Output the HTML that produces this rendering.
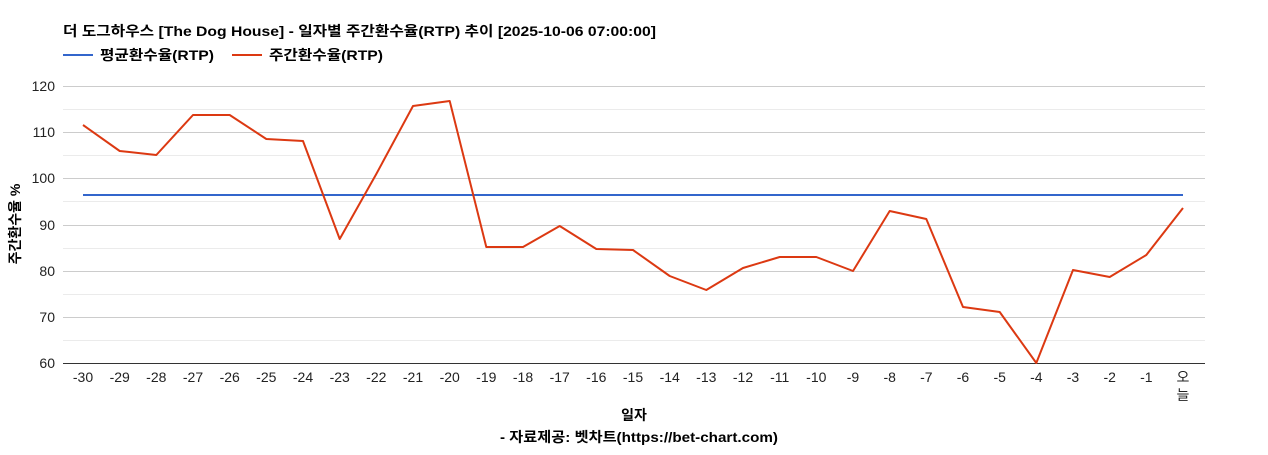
<!DOCTYPE html>
<html><head><meta charset="utf-8"><style>
body{margin:0;background:#fff;width:1268px;height:450px;overflow:hidden;font-family:"Liberation Sans","Noto Sans CJK KR",sans-serif}
</style></head><body>
<svg width="1268" height="450" xmlns="http://www.w3.org/2000/svg" font-family="Liberation Sans, Noto Sans CJK KR, sans-serif">
<text x="63" y="36" font-size="14" font-weight="bold" fill="#000" textLength="593" lengthAdjust="spacingAndGlyphs">더 도그하우스 [The Dog House] - 일자별 주간환수율(RTP) 추이 [2025-10-06 07:00:00]</text>
<line x1="63" y1="55" x2="93" y2="55" stroke="#3366cc" stroke-width="2"/>
<text x="100" y="60" font-size="14" font-weight="bold" textLength="114" lengthAdjust="spacingAndGlyphs">평균환수율(RTP)</text>
<line x1="232" y1="55" x2="262" y2="55" stroke="#dc3912" stroke-width="2"/>
<text x="269" y="60" font-size="14" font-weight="bold" textLength="114" lengthAdjust="spacingAndGlyphs">주간환수율(RTP)</text>
<g stroke="#ebebeb" stroke-width="1">
<line x1="63" y1="109.5" x2="1205" y2="109.5"/><line x1="63" y1="155.5" x2="1205" y2="155.5"/><line x1="63" y1="201.5" x2="1205" y2="201.5"/><line x1="63" y1="248.5" x2="1205" y2="248.5"/><line x1="63" y1="294.5" x2="1205" y2="294.5"/><line x1="63" y1="340.5" x2="1205" y2="340.5"/>
</g>
<g stroke="#cccccc" stroke-width="1">
<line x1="63" y1="86.5" x2="1205" y2="86.5"/><line x1="63" y1="132.5" x2="1205" y2="132.5"/><line x1="63" y1="178.5" x2="1205" y2="178.5"/><line x1="63" y1="225.5" x2="1205" y2="225.5"/><line x1="63" y1="271.5" x2="1205" y2="271.5"/><line x1="63" y1="317.5" x2="1205" y2="317.5"/>
</g>
<line x1="63" y1="363.5" x2="1205" y2="363.5" stroke="#333" stroke-width="1"/>
<g font-size="14" text-anchor="end" fill="#222">
<text x="55" y="91">120</text><text x="55" y="137">110</text><text x="55" y="183">100</text><text x="55" y="230">90</text><text x="55" y="276">80</text><text x="55" y="322">70</text><text x="55" y="368">60</text>
</g>
<text transform="translate(20,224) rotate(-90)" font-size="14" font-weight="bold" text-anchor="middle">주간환수율 %</text>
<g font-size="14" text-anchor="middle" fill="#222" id="xl"></g>
<line x1="83" y1="195" x2="1183" y2="195" stroke="#3366cc" stroke-width="2"/>
<polyline fill="none" stroke="#dc3912" stroke-width="2" stroke-linejoin="round" id="rl" points=""/>
<text x="634" y="420" font-size="14" font-weight="bold" text-anchor="middle">일자</text>
<text x="500" y="442" font-size="14" font-weight="bold" textLength="278" lengthAdjust="spacingAndGlyphs">- 자료제공: 벳차트(https://bet-chart.com)</text>
</svg>
<script>
var ys=[125,151,155,115,115,139,141,239,174,106,101,247,247,226,249,250,276,290,268,257,257,271,211,219,307,312,363,270,277,255,208];
var pts=[],g=document.getElementById('xl'),h='';
for(var i=0;i<31;i++){var x=83+i*36.667;pts.push(x.toFixed(1)+','+ys[i]);
if(i<30)h+='<text x="'+x.toFixed(1)+'" y="382">'+(i-30)+'</text>';}
h+='<text x="1183" y="382">오</text><text x="1183" y="400">늘</text>';
g.innerHTML=h;
document.getElementById('rl').setAttribute('points',pts.join(' '));
</script>
</body></html>
